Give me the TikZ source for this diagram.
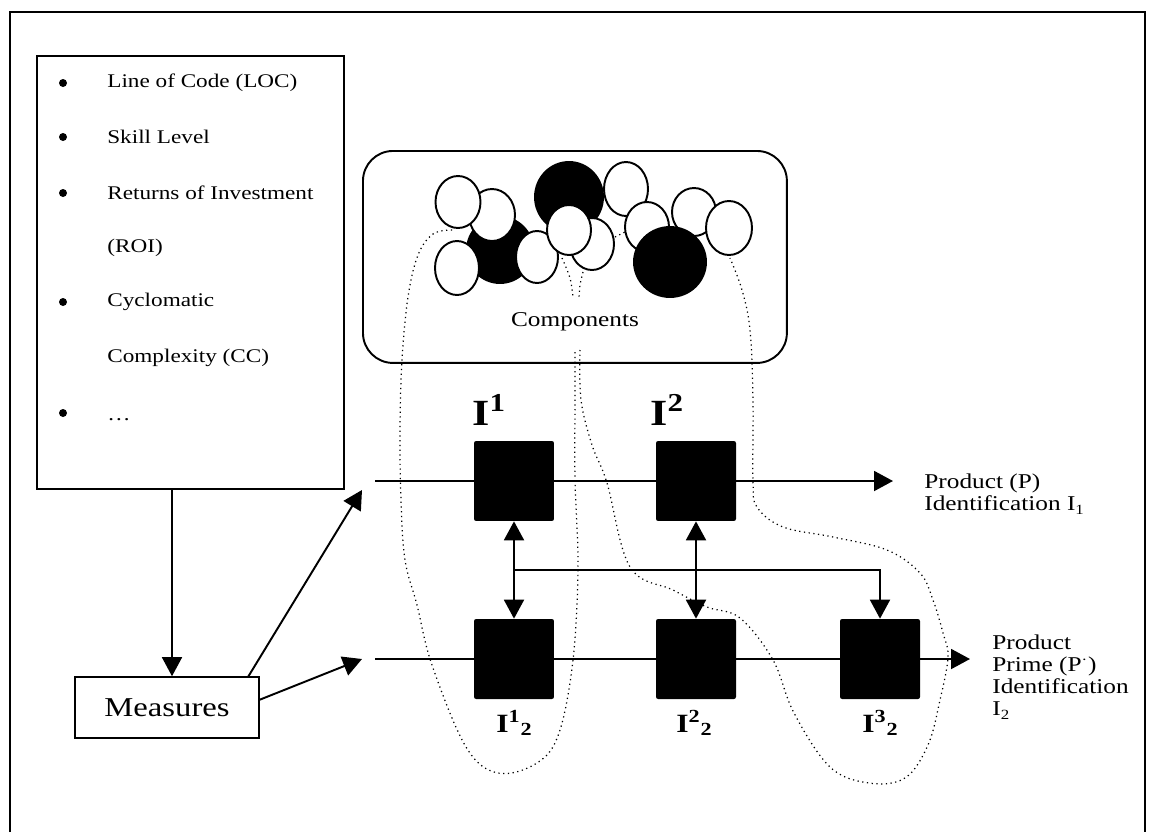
\documentclass[tikz,border=0pt]{standalone}
\usepackage{fontspec}
\setmainfont{Liberation Serif}[FakeStretch=1.2]
\usetikzlibrary{arrows.meta}

\begin{document}
\begin{tikzpicture}[x=0.02cm,y=-0.02cm,
  frame/.style={draw,line width=0.7pt},
  box/.style={draw,line width=0.9pt,inner sep=0pt},
  blk/.style={fill=black,minimum size=1.6cm,rounded corners=1.2pt,inner sep=0pt},
  ln/.style={line width=1.1pt},
  arr/.style={line width=1.1pt,-{Triangle[length=0.38cm,width=0.4cm]}},
  darr/.style={line width=1.1pt,{Triangle[length=0.38cm,width=0.4cm]}-{Triangle[length=0.38cm,width=0.4cm]}},
  group/.style={dotted,line width=0.7pt},
  wc/.style={draw,fill=white,line width=1.1pt},
  bc/.style={draw,fill=black,line width=1.1pt},
  item/.style={anchor=west,inner sep=0pt,font=\fontsize{11}{13}\selectfont},
  biglabel/.style={anchor=base west,inner sep=0pt,font=\bfseries\fontsize{21}{21}\selectfont},
  sublabel/.style={anchor=base west,inner sep=0pt,font=\bfseries\fontsize{15}{15}\selectfont},
  prodlabel/.style={anchor=north west,inner sep=0pt,align=left,font=\fontsize{12}{12.5}\selectfont}]

% page and outer frame
\useasboundingbox (0,0) rectangle (1153,832);
\draw[frame] (10,832) -- (10,12) -- (1145,12) -- (1145,832);

% list of measures
\node[box,anchor=north west,minimum width=6.14cm,minimum height=8.66cm] (list) at (36,55) {};
\foreach \y in {83,137,193,302,413} \fill (63,\y) circle [radius=4];
\node[item] (t1) at (107,83)  {Line of Code (LOC)};
\node[item] (t2) at (107,137) {Skill Level};
\node[item] (t3) at (107,193) {Returns of Investment};
\node[item] (t4) at (107,248) {(ROI)};
\node[item] (t5) at (107,302) {Cyclomatic};
\node[item] (t6) at (107,358) {Complexity (CC)};
\node[anchor=base west,inner sep=0pt,font=\fontsize{11}{13}\selectfont] (t7) at (107,420) {\dots};

% measures box
\node[box,minimum width=3.68cm,minimum height=1.22cm,font=\fontsize{15.5}{15.5}\selectfont] (meas) at (167,707.5) {Measures};

% components box
\node[draw,line width=1.1pt,rounded corners=0.6cm,anchor=north west,
      minimum width=8.48cm,minimum height=4.24cm,inner sep=0pt] (comp) at (362,150) {};
\node[inner sep=0pt,font=\fontsize{12}{12}\selectfont] (clab) at (575,322) {Components};

% component discs
\draw[bc] (500,250) ellipse [x radius=33,y radius=33];
\draw[wc] (492,215) ellipse [x radius=23,y radius=26];
\draw[wc] (458,202) ellipse [x radius=22.5,y radius=26];
\draw[wc] (457,268) ellipse [x radius=22,y radius=27];
\draw[wc] (537,257) ellipse [x radius=21,y radius=26];
\draw[bc] (569,197) ellipse [x radius=34,y radius=35];
\draw[wc] (592,244) ellipse [x radius=22,y radius=26];
\draw[wc] (569,230) ellipse [x radius=22,y radius=25];
\draw[wc] (626,189) ellipse [x radius=22,y radius=27];
\draw[wc] (647,227) ellipse [x radius=22,y radius=25];
\draw[wc] (694,212) ellipse [x radius=22,y radius=24];
\draw[bc] (670,262) ellipse [x radius=36,y radius=35];
\draw[wc] (729,228) ellipse [x radius=23,y radius=27];

% identification blocks
\node[blk] (a1) at (514,481) {};
\node[blk] (a2) at (696,481) {};
\node[blk] (b1) at (514,659) {};
\node[blk] (b2) at (696,659) {};
\node[blk] (b3) at (880,659) {};

\node[biglabel] (la1) at (472,425) {I\textsuperscript{1}};
\node[biglabel] (la2) at (650,425) {I\textsuperscript{2}};
\node[sublabel] (lb1) at (496,732) {I\textsuperscript{1}\textsubscript{2}};
\node[sublabel] (lb2) at (676,732) {I\textsuperscript{2}\textsubscript{2}};
\node[sublabel] (lb3) at (862,732) {I\textsuperscript{3}\textsubscript{2}};

\node[prodlabel] (p1) at (924,474) {Product (P)\\Identification I\textsubscript{1}};
\node[prodlabel] (p2) at (992,635) {Product\\Prime (P\textsuperscript{·})\\Identification\\I\textsubscript{2}};

% flow lines
\coordinate (ain)  at (375,481);
\coordinate (aout) at (893,481);
\coordinate (bin)  at (375,659);
\coordinate (bout) at (970,659);
\draw[ln] (ain) -- (a1);
\draw[ln] (a1) -- (a2);
\draw[arr] (a2) -- (aout);
\draw[ln] (bin) -- (b1);
\draw[ln] (b1) -- (b2);
\draw[ln] (b2) -- (b3);
\draw[arr] (b3) -- (bout);
\draw[darr] (a1) -- (b1);
\draw[darr] (a2) -- (b2);
\coordinate (j) at (514,570);
\draw[arr] (j) -| (b3);

% measures connectors
\coordinate (ls) at (172,488);
\draw[arr,line width=0.9pt] (ls) -- (ls |- meas.north);
\coordinate (m1) at (248,677);
\coordinate (m2) at (259,700);
\coordinate (tipa) at (362,490);
\coordinate (tipb) at (362,659);
\draw[arr] (m1) -- (tipa);
\draw[arr] (m2) -- (tipb);

% component groupings
\draw[group] plot[smooth,tension=0.6] coordinates {(452,230) (433,234) (418,255) (408,297) (402,360) (400,430) (401,500) (405,560) (417,605) (432,665) (466,747) (498,773) (537,763) (559,733) (573,660) (578,567) (575,480) (575,400) (575,350)};
\draw[group] plot[smooth] coordinates {(562,258) (570,278) (573,297)};
\draw[group] plot[smooth] coordinates {(583,272) (580,285) (579,298)};
\draw[group] (615,237) -- (625,232);
\draw[group] plot[smooth,tension=0.6] coordinates {(580,350) (581,400) (592,445) (607,483) (630,567) (673,590) (707,607) (740,618) (773,660) (794,713) (830,767) (869,783) (905,778) (928,745) (940,700) (948,657) (943,633) (933,600) (920,573) (887,550) (833,537) (783,527) (757,507) (753,480) (753,400) (750,330) (742,290) (730,258)};

\end{tikzpicture}
\end{document}
